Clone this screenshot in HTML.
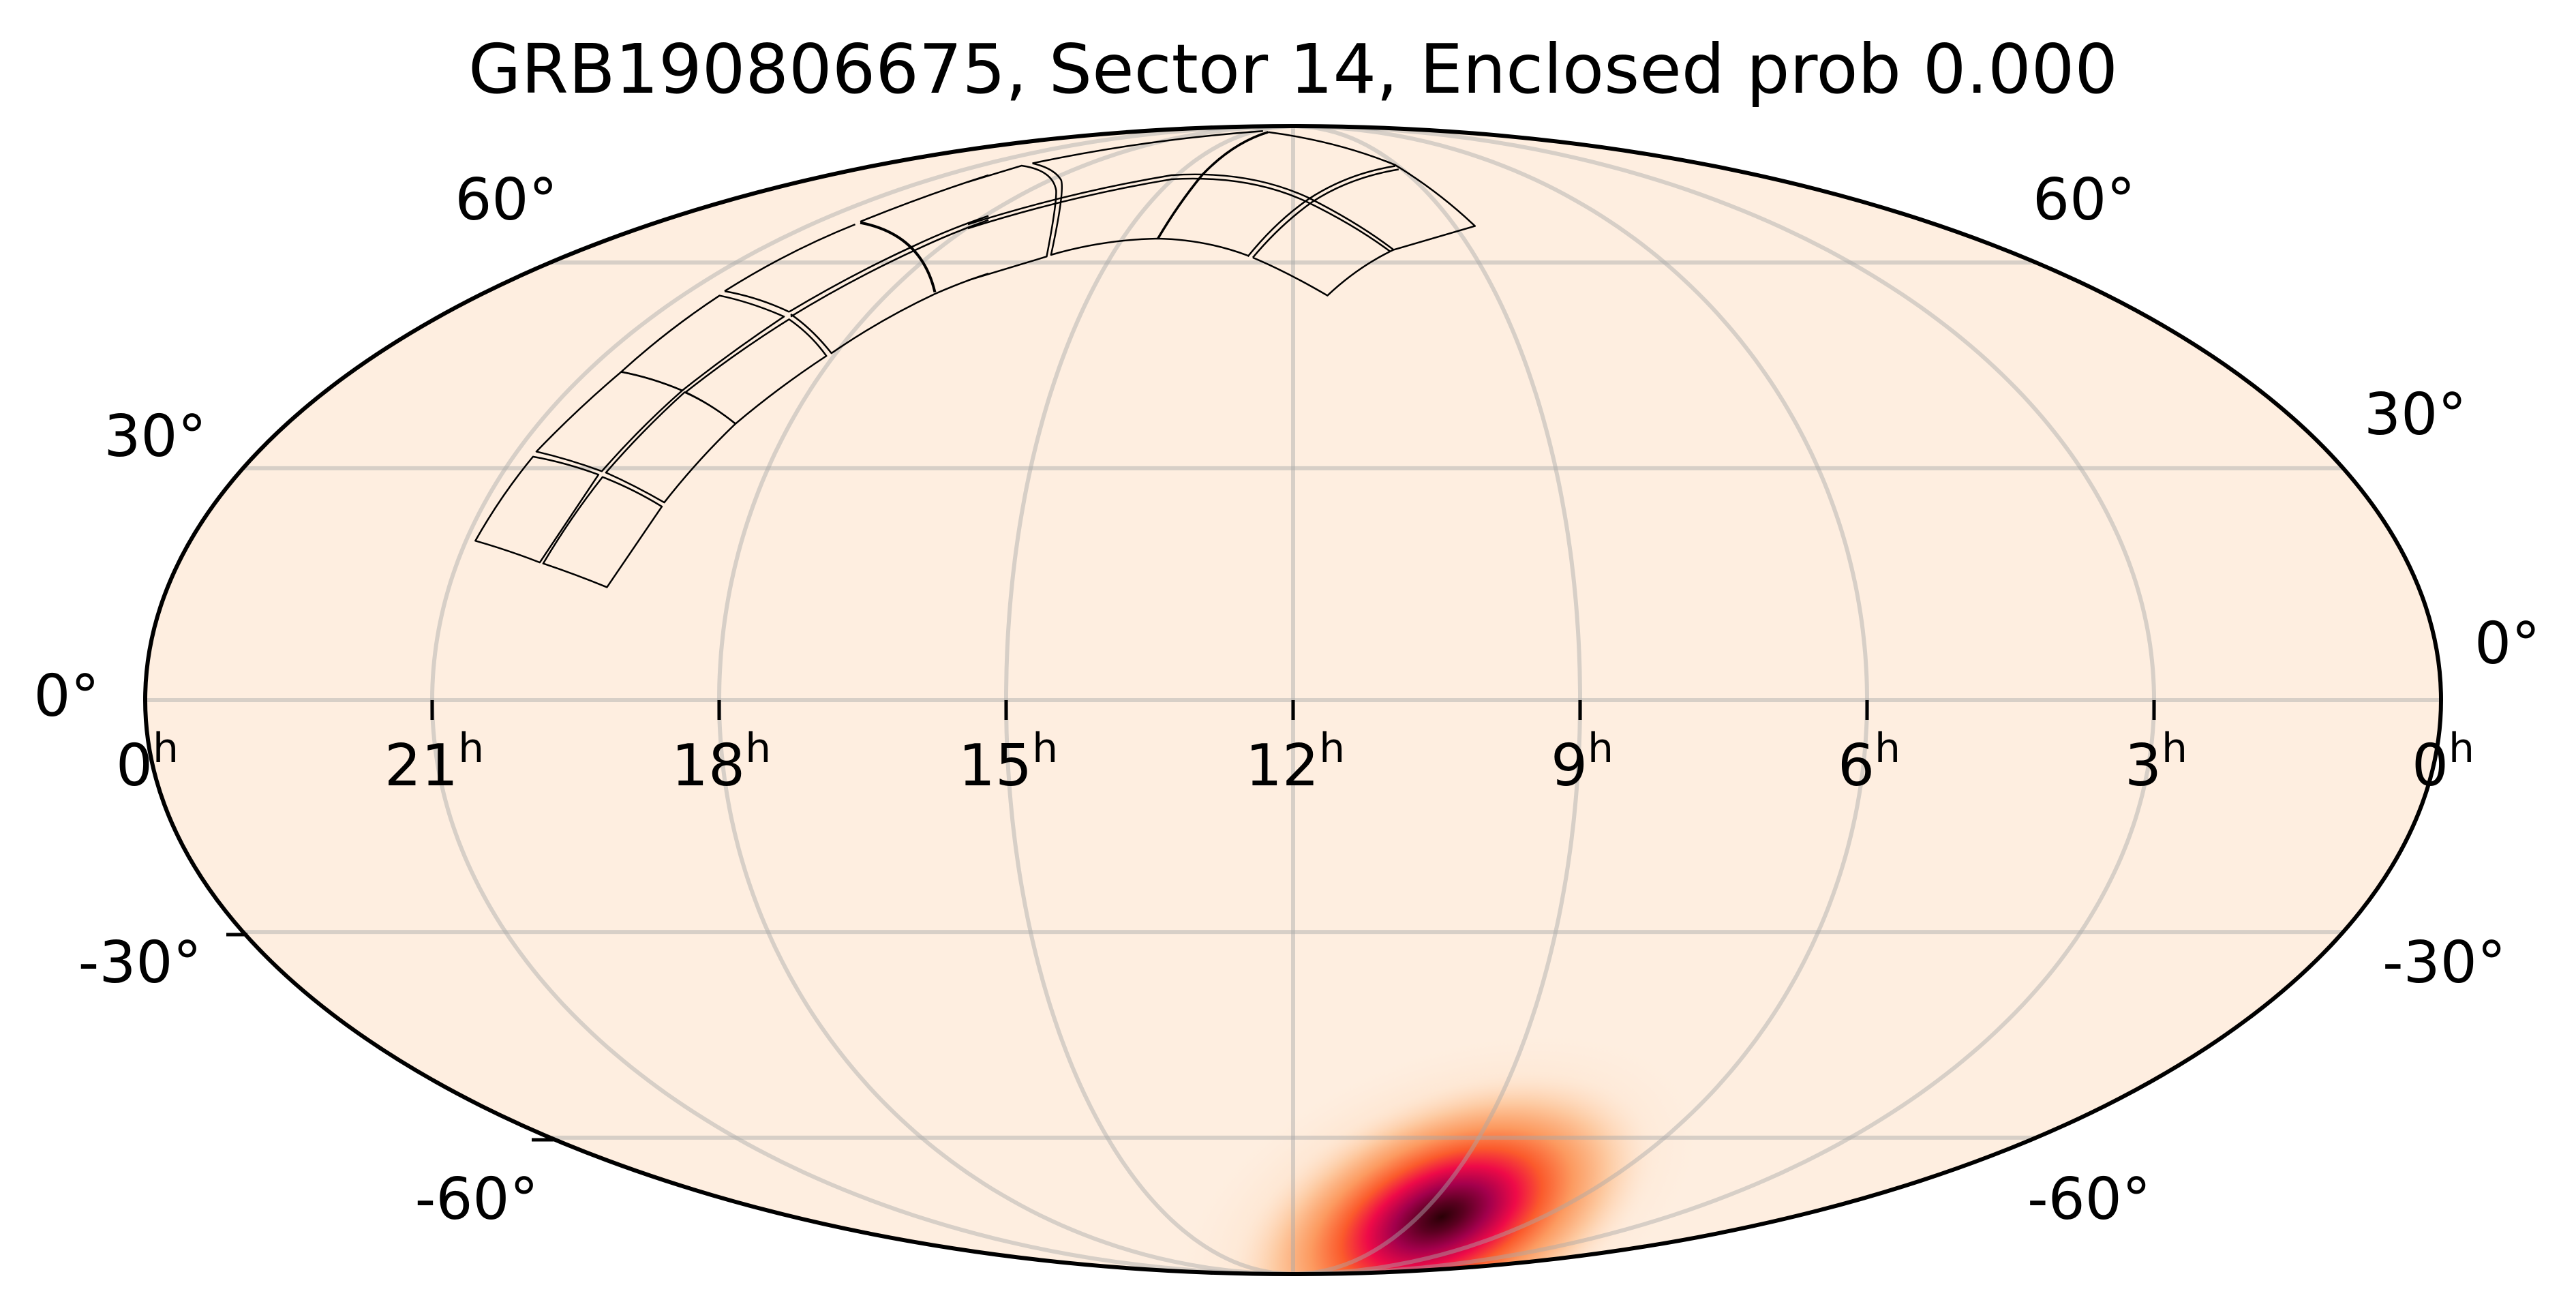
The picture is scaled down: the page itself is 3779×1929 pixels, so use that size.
<!DOCTYPE html>
<html><head><meta charset="utf-8"><style>
html,body{margin:0;padding:0;background:#fff;overflow:hidden;width:3779px;height:1929px;}
svg{display:block;}
text{font-family:"DejaVu Sans","Liberation Sans",sans-serif;fill:#000;}
</style></head><body>
<svg id="s" width="3779" height="1929" viewBox="0 0 3779 1929" xmlns="http://www.w3.org/2000/svg">
<defs>
<clipPath id="ec"><ellipse cx="1897" cy="1027" rx="1684" ry="842"/></clipPath>
<radialGradient id="blob" cx="0.5" cy="0.5" r="0.5">
<stop offset="0" stop-color="#2a0006"/>
<stop offset="0.1" stop-color="#5a0020"/>
<stop offset="0.22" stop-color="#a3004c"/>
<stop offset="0.34" stop-color="#ee0a48"/>
<stop offset="0.46" stop-color="#fb5a2c"/>
<stop offset="0.6" stop-color="#fc9a60"/>
<stop offset="0.76" stop-color="#fdc9a0"/>
<stop offset="1" stop-color="#feeee0" stop-opacity="0"/>
</radialGradient>
<radialGradient id="halo" cx="0.5" cy="0.5" r="0.5">
<stop offset="0" stop-color="#fdb88a" stop-opacity="0.8"/>
<stop offset="0.6" stop-color="#fdd6b4" stop-opacity="0.5"/>
<stop offset="1" stop-color="#feeee0" stop-opacity="0"/>
</radialGradient>
</defs>
<ellipse cx="1897" cy="1027" rx="1684" ry="842" fill="#feeee0"/>
<g clip-path="url(#ec)">
<ellipse cx="0" cy="0" rx="420" ry="230" fill="url(#halo)" transform="translate(2110,1770) rotate(-22)"/>
<ellipse cx="0" cy="0" rx="340" ry="185" fill="url(#blob)" transform="translate(2115,1785) rotate(-24)"/>
</g>
<g id="grid" fill="none" stroke="#a8a8a8" stroke-opacity="0.45" stroke-width="6" clip-path="url(#ec)"></g>
<ellipse cx="1897" cy="1027" rx="1684" ry="842" fill="none" stroke="#000" stroke-width="6"/>
<g id="ticks" stroke="#000" stroke-width="5"></g>
<g fill="none" stroke="#000" stroke-width="5" stroke-linejoin="round" transform="translate(670,150) scale(0.4975)">
<path d="M55,1293 Q150,1320 245,1357 L418,1098 Q320,1062 225,1045 Q130,1160 55,1293 Z"/>
<path d="M255,1360 Q350,1392 443,1430 L605,1192 Q520,1140 430,1105 Q335,1225 255,1360 Z"/>
<path d="M235,1030 Q330,1052 428,1088 Q540,960 665,850 Q575,812 485,795 Q355,905 235,1030 Z"/>
<path d="M440,1092 Q525,1130 612,1180 Q710,1055 822,948 Q750,890 672,855 Q550,965 440,1092 Z"/>
<path d="M485,795 Q620,672 775,570 Q870,590 965,632 Q810,735 665,850 Q575,812 485,795 Z"/>
<path d="M675,855 Q820,740 980,640 Q1045,685 1090,748 Q950,840 822,948 Q750,890 675,855 Z"/>
<path d="M790,557 Q975,440 1175,360 M790,557 Q890,575 980,618"/>
<path d="M1190,352 Q1380,275 1568,215"/>
<path d="M1190,355 Q1370,390 1410,560" stroke-width="8"/>
<path d="M980,618 Q1160,510 1345,425 Q1450,375 1568,335"/>
<path d="M985,632 Q1165,522 1350,437 Q1455,387 1568,347"/>
<path d="M985,625 Q1050,670 1105,740 Q1250,640 1410,565 Q1490,530 1568,505"/>
</g>
<g fill="none" stroke="#000" stroke-width="5" stroke-linejoin="round" transform="translate(1420,150) scale(0.4975)">
<path d="M0,235 L158,187 Q250,200 260,260 Q262,300 232,455 L0,525"/>
<path d="M190,180 Q255,195 275,230 Q285,265 245,450 Q400,405 560,402 Q700,405 825,452"/>
<path d="M190,180 Q520,110 870,85"/>
<path d="M0,360 Q300,265 600,215 Q830,200 1005,282 Q1150,355 1255,435"/>
<path d="M0,372 Q300,277 600,227 Q830,214 1000,294 Q1140,362 1245,440"/>
<path d="M560,402 Q620,300 690,215 Q780,120 885,88" stroke-width="7"/>
<path d="M885,88 Q1090,115 1260,185 Q1390,265 1495,365 L1255,435 Q1150,485 1060,570 Q940,500 840,458"/>
<path d="M825,455 Q910,350 1005,285 Q1120,210 1260,188"/>
<path d="M840,458 Q920,362 1015,294 Q1125,222 1270,198"/>
</g>
<text x="1897" y="136" font-size="100" text-anchor="middle" textLength="2420" lengthAdjust="spacingAndGlyphs">GRB190806675, Sector 14, Enclosed prob 0.000</text>
<g font-size="85" id="labs">
<text x="818" y="322" text-anchor="end">60°</text>
<text x="2982" y="322">60°</text>
<text x="303" y="669" text-anchor="end">30°</text>
<text x="3468" y="637">30°</text>
<text x="146" y="1050" text-anchor="end">0°</text>
<text x="3630" y="973">0°</text>
<text x="296" y="1441" text-anchor="end">-30°</text>
<text x="3495" y="1441">-30°</text>
<text x="790" y="1788" text-anchor="end">-60°</text>
<text x="2974" y="1788">-60°</text>
</g>
</svg>
<script>
(function(){
var NS="http://www.w3.org/2000/svg";
var cx=1897,cy=1027,rx=1684,ry=842;
function th(lat){var p=Math.PI*Math.sin(lat*Math.PI/180);var t=lat*Math.PI/180;
 for(var i=0;i<60;i++){var f=2*t+Math.sin(2*t)-p;var d=2+2*Math.cos(2*t);if(Math.abs(d)<1e-9)break;t-=f/d;}return t;}
var g=document.getElementById('grid'),tk=document.getElementById('ticks');
function el(n,a,p){var e=document.createElementNS(NS,n);for(var k in a)e.setAttribute(k,a[k]);(p||g).appendChild(e);return e;}
[-60,-30,0,30,60].forEach(function(l){var t=th(l);var y=cy-ry*Math.sin(t);var w=rx*Math.cos(t);
 el('line',{x1:cx-w,y1:y,x2:cx+w,y2:y});});
for(var h=3;h<=21;h+=3){var d='';for(var l=-90;l<=90;l+=1){var t=th(l);var x=cx-(h-12)/12*rx*Math.cos(t);var y=cy-ry*Math.sin(t);d+=(l==-90?'M':'L')+x.toFixed(1)+','+y.toFixed(1);}
 el('path',{d:d});
 var xe=cx-(h-12)/12*rx; el('line',{x1:xe,y1:cy,x2:xe,y2:cy+29},tk);}
el('line',{x1:332,y1:1371,x2:363,y2:1371},tk);
el('line',{x1:780,y1:1672,x2:812,y2:1672},tk);
var labs=document.getElementById('labs');
var hrs=[0,21,18,15,12,9,6,3,0];
for(var i=0;i<9;i++){var x=cx-rx+i*rx/4;
 var t=el('text',{x:x+3,y:1152,'text-anchor':'middle'},labs);
 t.appendChild(document.createTextNode(hrs[i]));
 var sp=document.createElementNS(NS,'tspan');sp.setAttribute('dy','-34');sp.setAttribute('font-size','60');sp.textContent='h';t.appendChild(sp);}
})();
</script>
</body></html>
